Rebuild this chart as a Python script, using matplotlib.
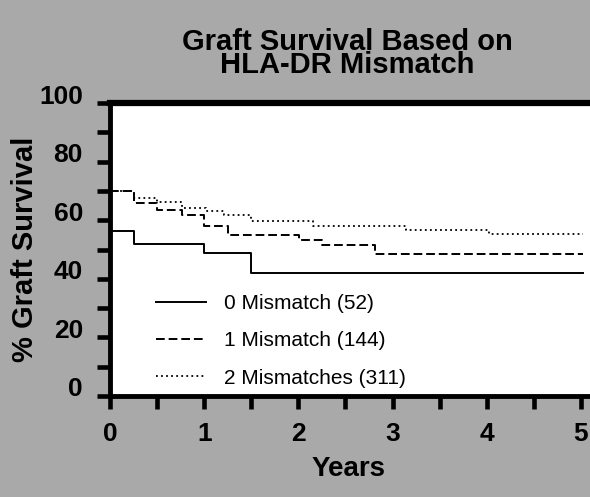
import matplotlib
matplotlib.use("Agg")
import matplotlib.pyplot as plt
from matplotlib.transforms import ScaledTranslation

# --------------------------------
# Data
# --------------------------------
years_0 = [0, 0.25, 1.0, 1.5, 5.02]
surv_0 = [56.4, 52.0, 48.9, 41.9, 41.9]

years_1 = [0, 0.25, 0.5, 0.76, 1.0, 1.25, 2.01, 2.25, 2.81, 5.02]
surv_1 = [70.0, 65.9, 63.5, 61.7, 58.0, 54.9, 53.4, 51.7, 48.5, 48.5]

years_2 = [0, 0.25, 0.5, 0.76, 1.02, 1.21, 1.5, 2.15, 3.14, 4.02, 5.02]
surv_2 = [70.0, 67.5, 66.3, 64.3, 63.2, 61.8, 59.8, 58.1, 56.7, 55.2, 55.2]

labels = ["0 Mismatch (52)", "1 Mismatch (144)", "2 Mismatches (311)"]
x_ticks = [0, 1, 2, 3, 4, 5]
y_ticks = [0, 20, 40, 60, 80, 100]

bg = "#a9a9a9"
plt.rcParams["font.family"] = ["Liberation Sans", "DejaVu Sans"]

fig = plt.figure(figsize=(5.9, 4.97), dpi=100, facecolor=bg)
ax = fig.add_axes([110/590, 101/497, 480/590, 293/497])
ax.set_facecolor("white")

ax.step(years_0, surv_0, where="post", color="black", lw=1.4, label=labels[0])
ax.step(years_1, surv_1, where="post", color="black", lw=1.4,
        dashes=(4.5, 2), label=labels[1])
ax.step(years_2, surv_2, where="post", color="black", lw=1.3,
        dashes=(1, 1.8), label=labels[2])

ax.set_xlim(0, 5.096)
ax.set_ylim(0, 100)

ax.spines["right"].set_visible(False)
for s in ["left", "bottom"]:
    ax.spines[s].set_linewidth(3.5)
ax.spines["top"].set_linewidth(4.5)

ax.set_xticks(x_ticks)
ax.set_xticks([0.5, 1.5, 2.5, 3.5, 4.5], minor=True)
ax.set_yticks(y_ticks)
ax.set_yticks([10, 30, 50, 70, 90], minor=True)
ax.tick_params(axis="both", which="both", direction="out", width=3.3, color="black")
ax.tick_params(axis="x", which="both", length=9.5, pad=9)
ax.tick_params(axis="y", which="both", length=9.5, pad=10)
ax.tick_params(labelsize=19)
shift_up = ScaledTranslation(0, 9/100, fig.dpi_scale_trans)
for t in ax.get_xticklabels():
    t.set_fontweight("bold")
for t in ax.get_yticklabels():
    t.set_fontweight("bold")
    t.set_transform(t.get_transform() + shift_up)

ax.set_xlabel("Years", fontsize=20, fontweight="bold")
ax.xaxis.set_label_coords(0.498, -0.205)
ax.set_ylabel("% Graft Survival", fontsize=21, fontweight="bold")
ax.yaxis.set_label_coords(-0.148, 0.5)

fig.text(0.588, 0.892, "Graft Survival Based on\nHLA-DR Mismatch",
         ha="center", va="center", fontsize=21, fontweight="bold",
         linespacing=0.8)

leg = ax.legend(loc="center left", bbox_to_anchor=(0.056, 0.188), frameon=False,
                fontsize=15, handlelength=2.4, handletextpad=0.9,
                labelspacing=0.87)

fig.savefig("out.png", dpi=100, facecolor=bg)
